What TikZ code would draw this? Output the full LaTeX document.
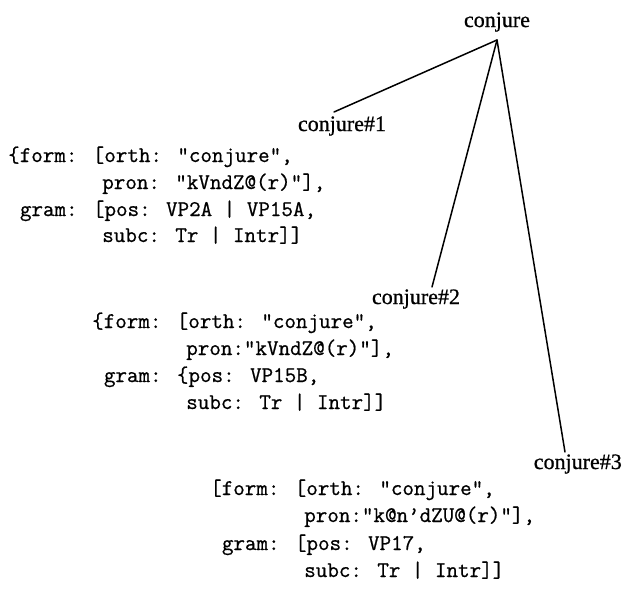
\documentclass[tikz,border=0pt]{standalone}
\usepackage{fontspec}
\setmainfont{Liberation Serif}
\newfontfamily\cour{Latin Modern Mono}[FakeBold=0.7]
\newfontfamily\lblfont{Liberation Serif}[FakeBold=0.8]
\tikzset{
  lbl/.style={inner sep=0pt, font=\lblfont\fontsize{22}{26}\selectfont},
  code/.style={inner sep=0pt, anchor=base west, font=\cour\fontsize{22.4}{26}\selectfont},
  branch/.style={line width=1.5pt, line cap=round}
}
\begin{document}
\begin{tikzpicture}[x=1pt,y=1pt]
\useasboundingbox (0,0) rectangle (624,-592);
% labels
\node[lbl, anchor=base] (top) at (497,-27) {conjure};
\node[lbl, anchor=base] (c1) at (342,-131) {conjure\#1};
\node[lbl, anchor=base] (c2) at (416,-304) {conjure\#2};
\node[lbl, anchor=base east] (c3) at (622,-469) {conjure\#3};
\coordinate (apex) at (497,-40);
\coordinate (e1) at (334,-112);
\coordinate (e2) at (432,-287);
\coordinate (e3) at (565,-452);
\draw[branch] (apex) -- (e1);
\draw[branch] (apex) -- (e2);
\draw[branch] (apex) -- (e3);
% block 1
\def\w{11.76}
\node[code] (a1) at (8,-162) {\{form: [orth: “conjure”,};
\node[code] (a2) at (8+8*\w,-189) {pron: “kVndZ@(r)”],};
\node[code] (a3) at (8+1*\w,-216) {gram: [pos: VP2A | VP15A,};
\node[code] (a4) at (8+8*\w,-242) {subc: Tr | Intr]]};
% block 2
\node[code] (b1) at (92,-328) {\{form: [orth: “conjure”,};
\node[code] (b2) at (92+8*\w,-355) {pron:“kVndZ@(r)”],};
\node[code] (b3) at (92+1*\w,-382) {gram: \{pos: VP15B,};
\node[code] (b4) at (92+8*\w,-409) {subc: Tr | Intr]]};
% block 3
\node[code] (d1) at (210,-495) {[form: [orth: “conjure”,};
\node[code] (d2) at (210+8*\w,-522) {pron:“k@n’dZU@(r)”],};
\node[code] (d3) at (210+1*\w,-550) {gram: [pos: VP17,};
\node[code] (d4) at (210+8*\w,-577) {subc: Tr | Intr]]};
\end{tikzpicture}
\end{document}
